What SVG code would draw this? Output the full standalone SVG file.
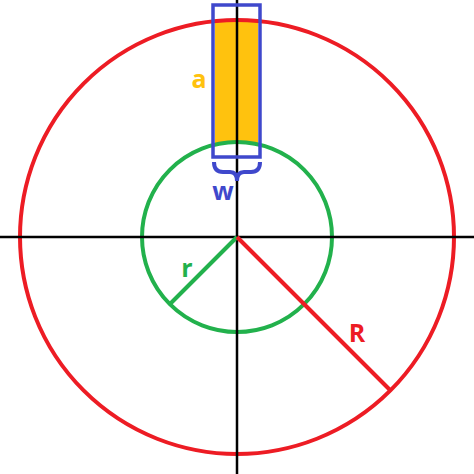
<svg xmlns="http://www.w3.org/2000/svg" width="474" height="474" viewBox="0 0 474 474">
<style>
.lbl{font-family:"Open Sans","Liberation Sans",sans-serif;font-weight:bold;font-size:25px;text-anchor:middle}
</style>
<rect width="474" height="474" fill="#fff"/>
<g id="strip"><path d="M215,21.1 A217,217 0 0 1 258,21.1 L258,144.6 A95,95 0 0 0 215,144.6 Z" fill="#FFC20E"/></g>
<g id="outer"><circle cx="237" cy="237" r="217" fill="none" stroke="#ED1C24" stroke-width="4"/></g>
<g id="inner"><circle cx="237" cy="237" r="95" fill="none" stroke="#22B14C" stroke-width="4"/></g>
<g id="connectors">
<line x1="0" y1="237" x2="474" y2="237" stroke="#000" stroke-width="2.5"/>
<line x1="237" y1="0" x2="237" y2="474" stroke="#000" stroke-width="2.5"/>
<line x1="237" y1="237" x2="170" y2="304" stroke="#22B14C" stroke-width="4"/>
<line x1="237" y1="237" x2="390" y2="390" stroke="#ED1C24" stroke-width="4"/>
</g>
<g id="box"><rect x="213" y="5" width="47" height="152" fill="none" stroke="#3F48CC" stroke-width="3.5"/>
<path d="M214,162 Q214,172 223,172 L230,172 Q237,172 237,181 Q237,172 244,172 L251,172 Q260,172 260,162" fill="none" stroke="#3F48CC" stroke-width="4"/></g>
<g id="labels">
<text class="lbl" x="199" y="88" fill="#FFC20E">a</text>
<text class="lbl" x="223" y="200" fill="#3F48CC">w</text>
<text class="lbl" x="187" y="277" fill="#22B14C">r</text>
<text class="lbl" x="357" y="342" fill="#ED1C24">R</text>
</g>
</svg>
